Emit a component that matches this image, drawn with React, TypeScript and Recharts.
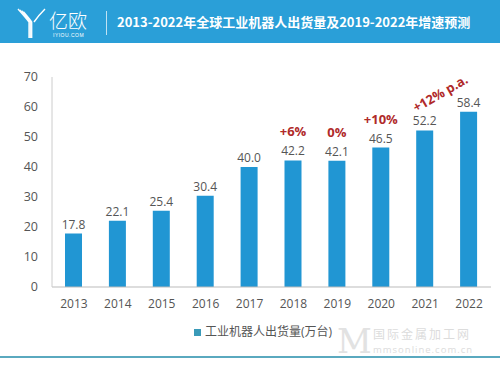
import { Bar, BarChart, LabelList, XAxis, YAxis } from "recharts";

const years = ["2013", "2014", "2015", "2016", "2017", "2018", "2019", "2020", "2021", "2022"];
const shipments = [17.8, 22.1, 25.4, 30.4, 40.0, 42.2, 42.1, 46.5, 52.2, 58.4];
const growth = ["", "", "", "", "", "+6%", "0%", "+10%", "+12% p.a.", ""];
const yTicks = [0, 10, 20, 30, 40, 50, 60, 70];
const seriesName = "工业机器人出货量(万台)";
const title = "2013-2022年全球工业机器人出货量及2019-2022年增速预测";

const data = years.map((year, i) => ({ year, value: shipments[i], growth: growth[i] }));

const BLUE = "#2196d3";
const FONT = "'Open Sans', 'Noto Sans CJK SC', sans-serif";

function GrowthLabel(props: any) {
  const { x, y, width, value } = props;
  if (!value) return null;
  const cx = x + width / 2;
  if (String(value).includes("p.a.")) {
    // the last one sits tilted between 2021 and 2022
    const lx = cx + 18;
    const ly = y - 33;
    return (
      <text
        x={lx}
        y={ly}
        fill="#b02a2a"
        fontSize={13}
        fontWeight={700}
        fontFamily={FONT}
        textAnchor="middle"
        transform={`rotate(-30 ${lx} ${ly})`}
      >
        {value}
      </text>
    );
  }
  return (
    <text
      x={cx}
      y={y - 24}
      fill="#b02a2a"
      fontSize={13}
      fontWeight={700}
      fontFamily={FONT}
      textAnchor="middle"
    >
      {value}
    </text>
  );
}

function Logo() {
  return (
    <svg width={100} height={43} style={{ position: "absolute", left: 0, top: 0 }}>
      {[0, 3, 6, 9].map((d) => (
        <path
          key={d}
          d={`M${18 + d * 0.6} ${9 + d * 0.3} Q${26 + d * 0.5} ${18 + d * 0.2} ${29 + d * 0.3} ${22} L${29 + d * 0.3} 38`}
          stroke="#fff"
          strokeWidth={1.4}
          fill="none"
          opacity={0.95}
        />
      ))}
      <path d="M45 9 Q38 16 34 22" stroke="#fff" strokeWidth={1.4} fill="none" />
      <text x={49} y={28} fill="#fff" fontSize={19} fontFamily="'Noto Sans CJK SC', sans-serif" fontWeight={300}>
        亿欧
      </text>
      <text x={53} y={37} fill="#fff" fontSize={5} fontFamily="sans-serif" letterSpacing={0.5}>
        IYIOU.COM
      </text>
    </svg>
  );
}

export default function App() {
  return (
    <div
      style={{
        position: "fixed",
        left: 0,
        top: 0,
        width: 500,
        height: 366,
        background: "#fff",
        overflow: "hidden",
      }}
    >
      <div style={{ position: "absolute", left: 0, top: 0, width: 500, height: 43, background: "#2a9fd8" }} />
      <Logo />
      <div style={{ position: "absolute", left: 106, top: 11, width: 1, height: 24, background: "rgba(255,255,255,0.7)" }} />
      <div
        style={{
          position: "absolute",
          left: 117,
          top: 12,
          color: "#fff",
          fontSize: 13,
          fontWeight: 700,
          fontFamily: "'Noto Sans CJK SC', sans-serif",
          whiteSpace: "nowrap",
          lineHeight: "20px",
        }}
      >
        {title}
      </div>
      <div style={{ position: "absolute", left: 0, top: 0 }}>
        <BarChart
          width={500}
          height={366}
          data={data}
          margin={{ top: 77, right: 9, left: 12, bottom: 49 }}
          barSize={17}
        >
          <XAxis
            dataKey="year"
            height={30}
            tickLine={false}
            axisLine={{ stroke: "#bbb" }}
            tick={{ fill: "#555", fontSize: 12, fontFamily: FONT }}
            tickMargin={6}
            interval={0}
          />
          <YAxis
            width={40}
            domain={[0, 70]}
            ticks={yTicks}
            tickLine={false}
            axisLine={{ stroke: "#ccc" }}
            tick={{ fill: "#555", fontSize: 12.5, fontFamily: FONT }}
            tickMargin={8}
          />
          <Bar dataKey="value" name={seriesName} fill={BLUE} isAnimationActive={false}>
            <LabelList
              dataKey="value"
              position="top"
              offset={5}
              formatter={(v: any) => Number(v).toFixed(1)}
              style={{ fill: "#555", fontSize: 12, fontFamily: FONT }}
            />
            <LabelList dataKey="growth" content={<GrowthLabel />} />
          </Bar>
        </BarChart>
      </div>
      <div
        style={{
          position: "absolute",
          left: 194,
          top: 324,
          display: "flex",
          alignItems: "center",
          fontFamily: FONT,
          fontSize: 12,
          lineHeight: "16px",
          color: "#555",
          whiteSpace: "nowrap",
        }}
      >
        <span style={{ width: 7, height: 7, background: "#3a9ab8", marginRight: 4, display: "inline-block" }} />
        {seriesName}
      </div>
      <div style={{ position: "absolute", left: 0, top: 356, width: 500, height: 2, background: "#5aa9bf" }} />
      <div
        style={{
          position: "absolute",
          left: 337,
          top: 324,
          color: "#e2e2e2",
          fontFamily: "'DejaVu Serif', serif",
          fontSize: 34,
          lineHeight: "34px",
        }}
      >
        M
      </div>
      <div
        style={{
          position: "absolute",
          left: 373,
          top: 327,
          color: "#dcdcdc",
          fontFamily: "'Noto Sans CJK SC', sans-serif",
          fontSize: 12,
          lineHeight: "14px",
          letterSpacing: 2,
          whiteSpace: "nowrap",
        }}
      >
        国际金属加工网
      </div>
      <div
        style={{
          position: "absolute",
          left: 373,
          top: 344,
          color: "#dcdcdc",
          fontFamily: FONT,
          fontSize: 9.5,
          lineHeight: "11px",
          letterSpacing: 1,
          whiteSpace: "nowrap",
        }}
      >
        mmsonline.com.cn
      </div>
    </div>
  );
}
